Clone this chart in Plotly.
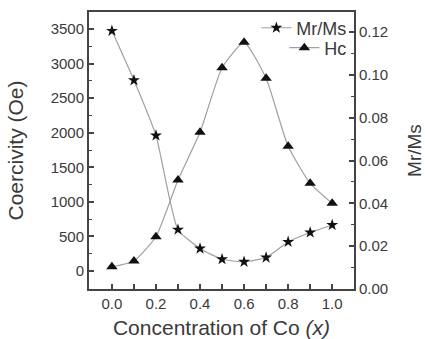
import plotly.graph_objects as go

x_conc = [0.0, 0.1, 0.2, 0.3, 0.4, 0.5, 0.6, 0.7, 0.8, 0.9, 1.0]
hc_values = [60, 145, 496, 1316, 2006, 2940, 3308, 2787, 1803, 1268, 979]
mrms_values = [0.1206, 0.0975, 0.0717, 0.0277, 0.0189, 0.0139, 0.0127, 0.0147, 0.0220, 0.0264, 0.0299]

x_ticks = [0.0, 0.2, 0.4, 0.6, 0.8, 1.0]
x_ticktext = ["0.0", "0.2", "0.4", "0.6", "0.8", "1.0"]
left_ticks = [0, 500, 1000, 1500, 2000, 2500, 3000, 3500]
right_ticks = [0.00, 0.02, 0.04, 0.06, 0.08, 0.10, 0.12]
right_ticktext = ["0.00", "0.02", "0.04", "0.06", "0.08", "0.10", "0.12"]

FONT = "Liberation Sans, Arial, sans-serif"
AX = "#444444"
TXT = "#3a3a3a"

fig = go.Figure()
fig.add_trace(go.Scatter(
    x=x_conc, y=mrms_values, name="Mr/Ms", yaxis="y2", legend="legend",
    mode="lines+markers",
    line=dict(color="#a0a0a0", width=1.2, shape="spline", smoothing=0.5),
    marker=dict(symbol="star", size=9, color="#111111"),
))
fig.add_trace(go.Scatter(
    x=x_conc, y=hc_values, name="Hc", yaxis="y", legend="legend2",
    mode="lines+markers",
    line=dict(color="#a0a0a0", width=1.2, shape="spline", smoothing=0.5),
    marker=dict(symbol="triangle-up", size=10, color="#111111"),
))

leg_common = dict(xanchor="right", yanchor="middle", bgcolor="rgba(0,0,0,0)",
                  font=dict(size=18, color=TXT), borderwidth=0)

fig.update_layout(
    template="none",
    width=425, height=339,
    margin=dict(l=89, r=71, t=12, b=50, autoexpand=False),
    paper_bgcolor="white", plot_bgcolor="white",
    font=dict(family=FONT, color=TXT, size=15),
    showlegend=True,
    legend=dict(x=0.99, y=0.942, **leg_common),
    legend2=dict(x=0.99, y=0.870, **leg_common),
    xaxis=dict(
        automargin=False,
        range=[-0.104, 1.099], tickvals=x_ticks, ticktext=x_ticktext,
        ticks="inside", ticklen=5, tickwidth=1.5, tickcolor=AX,
        minor=dict(ticks="inside", ticklen=5, tickwidth=1.5, tickcolor=AX, dtick=0.1, tick0=0),
        showline=True, linecolor=AX, linewidth=2, mirror=True,
        showgrid=False, zeroline=False,
        tickfont=dict(size=15, color=TXT),
        title=dict(text="Concentration of Co <i>(x)</i>", font=dict(size=21, color=TXT), standoff=10),
    ),
    yaxis=dict(
        automargin=False,
        range=[-260, 3746], tickvals=left_ticks,
        ticks="inside", ticklen=5, tickwidth=1.5, tickcolor=AX,
        minor=dict(ticks="inside", ticklen=3, tickwidth=1.2, tickcolor=AX, dtick=250, tick0=0),
        showline=True, linecolor=AX, linewidth=2, mirror=True,
        showgrid=False, zeroline=False,
        tickfont=dict(size=15, color=TXT),
        title=dict(text="Coercivity (Oe)", font=dict(size=21, color=TXT), standoff=21),
    ),
    yaxis2=dict(
        automargin=False,
        overlaying="y", side="right",
        range=[0, 0.1294], tickvals=right_ticks, ticktext=right_ticktext,
        ticks="inside", ticklen=5, tickwidth=1.5, tickcolor=AX,
        minor=dict(ticks="inside", ticklen=3, tickwidth=1.2, tickcolor=AX, dtick=0.01, tick0=0),
        showline=True, linecolor=AX, linewidth=2,
        showgrid=False, zeroline=False,
        tickfont=dict(size=15, color=TXT),
        title=dict(text="Mr/Ms", font=dict(size=19, color=TXT), standoff=22),
    ),
)

fig.write_html("out.html", config={"displayModeBar": False},
               post_script="document.body.style.margin='0';")
